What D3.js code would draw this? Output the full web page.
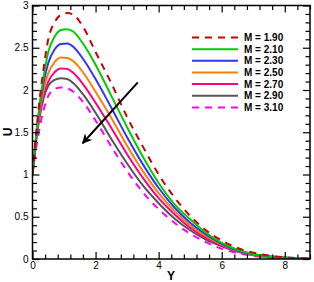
<!DOCTYPE html>
<html>
<head>
<meta charset="utf-8">
<script src="https://cdn.jsdelivr.net/npm/d3@7"></script>
<style>
  body { margin: 0; background: #fff; }
  svg { display: block; font-family: Arial, "Liberation Sans", sans-serif; }
</style>
</head>
<body>
<svg id="chart" width="314" height="282"></svg>
<script>
const Y_VALUES = [0, 0.1, 0.2, 0.35, 0.5, 0.7, 0.9, 1.1, 1.3, 1.6, 2, 2.5, 3, 3.5, 4, 4.5, 5, 5.5, 6, 6.5, 7, 7.5, 8, 8.8];

const M_LABELS = ["M = 1.90", "M = 2.10", "M = 2.30", "M = 2.50", "M = 2.70", "M = 2.90", "M = 3.10"];

const U_M190 = [1, 1.42, 1.8, 2.25, 2.6, 2.8, 2.89, 2.91, 2.89, 2.75, 2.45, 2.08, 1.68, 1.33, 1.0, 0.73, 0.51, 0.34, 0.22, 0.13, 0.075, 0.04, 0.02, 0.005];
const U_M210 = [1, 1.4, 1.75, 2.15, 2.45, 2.63, 2.71, 2.72, 2.69, 2.55, 2.3, 1.93, 1.56, 1.21, 0.9, 0.65, 0.47, 0.31, 0.19, 0.11, 0.06, 0.035, 0.018, 0.005];
const U_M230 = [1, 1.38, 1.72, 2.08, 2.32, 2.48, 2.545, 2.55, 2.51, 2.37, 2.13, 1.79, 1.44, 1.12, 0.84, 0.61, 0.43, 0.29, 0.18, 0.1, 0.055, 0.03, 0.016, 0.004];
const U_M250 = [1, 1.37, 1.68, 2.0, 2.2, 2.33, 2.385, 2.38, 2.34, 2.21, 1.98, 1.67, 1.34, 1.04, 0.78, 0.57, 0.4, 0.27, 0.17, 0.095, 0.05, 0.028, 0.015, 0.004];
const U_M270 = [1, 1.36, 1.65, 1.93, 2.1, 2.21, 2.255, 2.25, 2.2, 2.07, 1.85, 1.55, 1.24, 0.96, 0.72, 0.53, 0.37, 0.25, 0.16, 0.09, 0.048, 0.026, 0.014, 0.004];
const U_M290 = [1, 1.35, 1.62, 1.9, 2.05, 2.12, 2.14, 2.13, 2.08, 1.95, 1.73, 1.42, 1.13, 0.87, 0.66, 0.48, 0.34, 0.23, 0.15, 0.085, 0.045, 0.024, 0.013, 0.004];
const U_M310 = [1, 1.27, 1.5, 1.76, 1.93, 2.01, 2.03, 2.02, 1.98, 1.86, 1.64, 1.33, 1.04, 0.79, 0.59, 0.43, 0.3, 0.2, 0.12, 0.07, 0.038, 0.02, 0.011, 0.003];

const X_TICKS = [0, 2, 4, 6, 8];
const Y_TICKS = [0, 0.5, 1, 1.5, 2, 2.5, 3];

// arrow: tail and head in data units
const ARROW_FROM = [3.34, 2.09];
const ARROW_TO = [1.59, 1.37];

const SERIES = [
  { label: M_LABELS[0], values: U_M190, color: "#cc0000", dash: "7,6" },
  { label: M_LABELS[1], values: U_M210, color: "#00cc00", dash: null },
  { label: M_LABELS[2], values: U_M230, color: "#3333ff", dash: null },
  { label: M_LABELS[3], values: U_M250, color: "#ff8000", dash: null },
  { label: M_LABELS[4], values: U_M270, color: "#ff0080", dash: null },
  { label: M_LABELS[5], values: U_M290, color: "#555555", dash: null },
  { label: M_LABELS[6], values: U_M310, color: "#ff00ff", dash: "7,6" },
];

const svg = d3.select("#chart");
const plotLeft = 32.5, plotRight = 310, plotTop = 5.5, plotBottom = 259;

const x = d3.scaleLinear().domain([0, 8.8]).range([plotLeft, plotRight]);
const y = d3.scaleLinear().domain([0, 3]).range([plotBottom, plotTop]);

const defs = svg.append("defs");
defs.append("clipPath").attr("id", "plotclip")
  .append("rect").attr("x", plotLeft).attr("y", plotTop)
  .attr("width", plotRight - plotLeft).attr("height", plotBottom - plotTop);

defs.append("marker")
  .attr("id", "arrowhead")
  .attr("viewBox", "0 0 10 10")
  .attr("refX", 9).attr("refY", 5)
  .attr("markerWidth", 5).attr("markerHeight", 5)
  .attr("markerUnits", "strokeWidth")
  .attr("orient", "auto")
  .append("path").attr("d", "M0,0 L10,5 L0,10 L3,5 Z").attr("fill", "#000");

// curves
const line = d3.line()
  .x((d, i) => x(Y_VALUES[i]))
  .y(d => y(d))
  .curve(d3.curveMonotoneX);

const curves = svg.append("g").attr("clip-path", "url(#plotclip)");
SERIES.slice().reverse().forEach(s => {
  curves.append("path")
    .attr("d", line(s.values))
    .attr("fill", "none")
    .attr("stroke", s.color)
    .attr("stroke-width", 2)
    .attr("stroke-dasharray", s.dash);
});

// axes, ticks pointing inward
const minorX = d3.range(0, 8.81, 0.4).filter(v => Math.abs(v / 2 - Math.round(v / 2)) > 1e-6);
const minorY = d3.range(0, 3.001, 0.1).filter(v => Math.abs(v / 0.5 - Math.round(v / 0.5)) > 1e-6);

function styleAxis(g) {
  g.select(".domain").remove();
  g.selectAll("line").attr("stroke", "#000").attr("stroke-width", 1.2);
  g.selectAll("text").attr("fill", "#000").attr("font-size", 10);
}

svg.append("g").attr("transform", `translate(0,${plotBottom})`)
  .call(d3.axisBottom(x).tickValues(X_TICKS).tickFormat(d3.format("d")).tickSize(-7).tickPadding(3))
  .call(styleAxis);
svg.append("g").attr("transform", `translate(0,${plotBottom})`)
  .call(d3.axisBottom(x).tickValues(minorX).tickFormat("").tickSize(-4.5))
  .call(styleAxis);
svg.append("g").attr("transform", `translate(0,${plotTop})`)
  .call(d3.axisTop(x).tickValues(X_TICKS).tickFormat("").tickSize(-7))
  .call(styleAxis);
svg.append("g").attr("transform", `translate(0,${plotTop})`)
  .call(d3.axisTop(x).tickValues(minorX).tickFormat("").tickSize(-4.5))
  .call(styleAxis);

svg.append("g").attr("transform", `translate(${plotLeft},0)`)
  .call(d3.axisLeft(y).tickValues(Y_TICKS).tickFormat(d => d).tickSize(-7).tickPadding(4))
  .call(styleAxis);
svg.append("g").attr("transform", `translate(${plotLeft},0)`)
  .call(d3.axisLeft(y).tickValues(minorY).tickFormat("").tickSize(-4.5))
  .call(styleAxis);
svg.append("g").attr("transform", `translate(${plotRight},0)`)
  .call(d3.axisRight(y).tickValues(Y_TICKS).tickFormat("").tickSize(-7))
  .call(styleAxis);
svg.append("g").attr("transform", `translate(${plotRight},0)`)
  .call(d3.axisRight(y).tickValues(minorY).tickFormat("").tickSize(-4.5))
  .call(styleAxis);

svg.append("rect")
  .attr("x", plotLeft).attr("y", plotTop)
  .attr("width", plotRight - plotLeft).attr("height", plotBottom - plotTop)
  .attr("fill", "none").attr("stroke", "#000").attr("stroke-width", 1.5);

// axis titles
svg.append("text")
  .attr("x", 171).attr("y", 280)
  .attr("text-anchor", "middle")
  .attr("font-size", 12).attr("font-weight", "bold")
  .text("Y");
svg.append("text")
  .attr("transform", "translate(12,132) rotate(-90)")
  .attr("text-anchor", "middle")
  .attr("font-size", 12).attr("font-weight", "bold")
  .text("U");

// arrow
svg.append("line")
  .attr("x1", x(ARROW_FROM[0])).attr("y1", y(ARROW_FROM[1]))
  .attr("x2", x(ARROW_TO[0])).attr("y2", y(ARROW_TO[1]))
  .attr("stroke", "#000").attr("stroke-width", 2)
  .attr("marker-end", "url(#arrowhead)");

// legend
const legend = svg.append("g").attr("transform", "translate(192,37.5)");
SERIES.forEach((s, i) => {
  const row = legend.append("g").attr("transform", `translate(0,${i * 11.65})`);
  row.append("line")
    .attr("x1", 0).attr("x2", 46).attr("y1", 0).attr("y2", 0)
    .attr("stroke", s.color).attr("stroke-width", 2)
    .attr("stroke-dasharray", s.dash);
  row.append("text")
    .attr("x", 52).attr("y", 3.6)
    .attr("font-size", 10).attr("font-weight", "bold")
    .attr("fill", "#000")
    .text(s.label);
});
</script>
</body>
</html>
